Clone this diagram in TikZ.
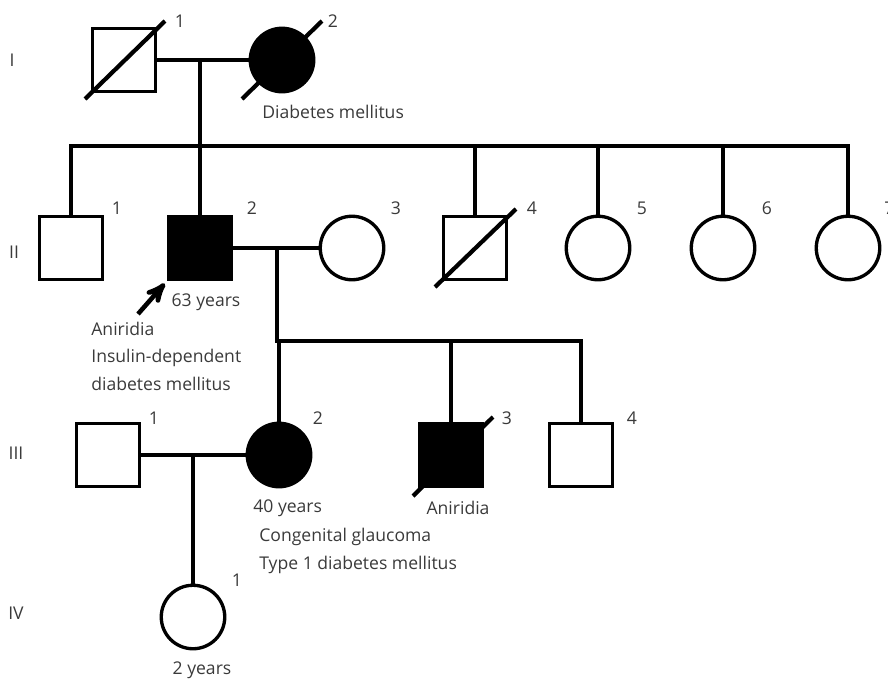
\documentclass[tikz,border=0pt]{standalone}
\usepackage{fontspec}
\setmainfont{Open Sans}
\usepackage{tikz}
\usetikzlibrary{arrows, positioning}
\definecolor{labelgray}{HTML}{3A3A3A}
\tikzset{
>=stealth', % makes the arrow heads bold
male/.style={rectangle, draw, line width=1.9pt, minimum size=1.25cm, inner sep=0pt}, % square symbol
female/.style={circle, draw, line width=1.9pt, minimum size=1.27cm, inner sep=0pt}, % round symbol
affected/.style={fill=black}, % filled symbol
link/.style={line width=1.9pt}, % marriage and sibship lines
slash/.style={line width=2.4pt}, % deceased
num/.style={text=labelgray, inner sep=0pt, font=\fontsize{10}{12}\selectfont},
note/.style={text=labelgray, inner sep=0pt, align=left, font=\fontsize{10}{15.6}\selectfont},
}

\begin{document}
\begin{tikzpicture}[x=0.02cm, y=-0.02cm]
  \useasboundingbox (0,0) rectangle (888,680);

  % generations
  \node[num] (genI) at (12,60) {I};
  \node[num] (genII) at (14,252) {II};
  \node[num] (genIII) at (16,453) {III};
  \node[num] (genIV) at (16,613) {IV};

  % generation I
  \node[male] (I1) at (124,60) {};
  \node[female, affected] (I2) at (282,60) {};
  \node[num] at (180,21) {1};
  \node[num] at (333,21) {2};
  \node[note, anchor=west] at (262,112) {Diabetes mellitus};
  \draw[slash] ([shift={(-39,39)}]I1.center) -- ([shift={(41,-39)}]I1.center);
  \draw[slash] ([shift={(-40,39)}]I2.center) -- ([shift={(40,-39)}]I2.center);

  % generation II
  \node[male] (II1) at (71,248) {};
  \node[male, affected] (II2) at (200,248) {};
  \node[female] (II3) at (352,248) {};
  \node[male] (II4) at (475,248) {};
  \node[female] (II5) at (598,248) {};
  \node[female] (II6) at (723,248) {};
  \node[female] (II7) at (848,248) {};
  \node[num] at (117,208) {1};
  \node[num] at (252,208) {2};
  \node[num] at (396,208) {3};
  \node[num] at (532,208) {4};
  \node[num] at (642,208) {5};
  \node[num] at (767,208) {6};
  \node[num, anchor=west] at (884,208) {7};
  \draw[slash] ([shift={(-40,39)}]II4.center) -- ([shift={(41,-39)}]II4.center);
  \node[note, anchor=center] (age2) at (206,302) {63 years};
  \node[note, anchor=west] (dx2) at (91,356) {Aniridia\\Insulin-dependent\\diabetes mellitus};
  \coordinate (proband) at (138,314);
  \draw[->, line width=2.6pt, shorten >=2pt] (proband) -- (II2.south west);

  % generation III
  \node[male] (III1) at (108,455) {};
  \node[female, affected] (III2) at (279,455) {};
  \node[male, affected] (III3) at (451,455) {};
  \node[male] (III4) at (581,455) {};
  \node[num] at (154,418) {1};
  \node[num] at (318,418) {2};
  \node[num] at (507,418) {3};
  \node[num] at (632,418) {4};
  \draw[slash] ([shift={(-38,41)}]III3.center) -- ([shift={(42,-38)}]III3.center);
  \node[note, anchor=west] at (253,508) {40 years};
  \node[note, anchor=west] at (259,551) {Congenital glaucoma\\Type 1 diabetes mellitus};
  \node[note, anchor=center] at (458,508) {Aniridia};

  % generation IV
  \node[female] (IV1) at (193,617) {};
  \node[num] at (237,580) {1};
  \node[note, anchor=center] at (202,670) {2 years};

  % marriages and sibships
  \coordinate (m1) at (200,60);
  \coordinate (sib1) at (200,146);
  \draw[link] (I1.east) -- (I2.west);
  \draw[link] (m1) -- (sib1);
  \draw[link] (II1.north) |- (sib1) -| (II7.north);
  \foreach \kid in {II2, II4, II5, II6}
    \draw[link] (\kid.north) -- (\kid |- sib1);

  \coordinate (m2) at (277,248);
  \coordinate (sib2) at (277,341);
  \draw[link] (II2.east) -- (II3.west);
  \draw[link] (m2) -- (sib2) -| (III4.north);
  \foreach \kid in {III2, III3}
    \draw[link] (\kid.north) -- (\kid |- sib2);

  \coordinate (m3) at (193,455);
  \draw[link] (III1.east) -- (III2.west);
  \draw[link] (m3) -- (IV1.north);
\end{tikzpicture}
\end{document}
